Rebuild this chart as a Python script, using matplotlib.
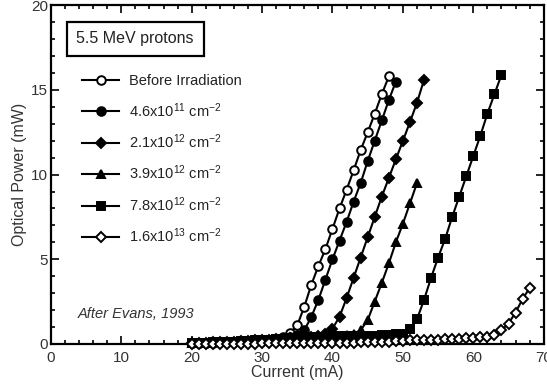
import matplotlib.pyplot as plt
import numpy as np

plt.rcParams['font.family'] = ['Liberation Sans', 'DejaVu Sans']
plt.rcParams['mathtext.fontset'] = 'custom'
plt.rcParams['mathtext.rm'] = 'Liberation Sans'
plt.rcParams['mathtext.it'] = 'Liberation Sans:italic'

# ---- data (current in mA, optical power in mW) ----
labels = ['Before Irradiation',
          '4.6x10$^{11}$ cm$^{-2}$',
          '2.1x10$^{12}$ cm$^{-2}$',
          '3.9x10$^{12}$ cm$^{-2}$',
          '7.8x10$^{12}$ cm$^{-2}$',
          '1.6x10$^{13}$ cm$^{-2}$']

cur_before = np.arange(20, 49)
pow_before = [0.05, 0.05, 0.06, 0.07, 0.08, 0.1, 0.1, 0.12, 0.14, 0.16,
              0.18, 0.22, 0.28, 0.4, 0.65, 1.1, 2.2, 3.5, 4.6, 5.6,
              6.8, 8.0, 9.1, 10.25, 11.45, 12.5, 13.6, 14.75, 15.8]

cur_46e11 = np.arange(20, 50)
pow_46e11 = [0.05, 0.06, 0.07, 0.08, 0.1, 0.11, 0.13, 0.15, 0.17, 0.2,
             0.22, 0.25, 0.28, 0.32, 0.38, 0.5, 0.8, 1.6, 2.6, 3.8,
             5.0, 6.1, 7.2, 8.4, 9.5, 10.8, 12.0, 13.2, 14.4, 15.5]

cur_21e12 = np.arange(20, 54)
pow_21e12 = [0.05, 0.06, 0.07, 0.08, 0.1, 0.11, 0.13, 0.15, 0.17, 0.2,
             0.22, 0.25, 0.27, 0.3, 0.32, 0.35, 0.38, 0.4, 0.45, 0.6,
             0.9, 1.6, 2.7, 3.9, 5.1, 6.3, 7.5, 8.7, 9.8, 10.9,
             12.0, 13.1, 14.25, 15.6]

cur_39e12 = np.arange(20, 53)
pow_39e12 = [0.05, 0.06, 0.07, 0.08, 0.1, 0.11, 0.13, 0.15, 0.17, 0.2,
             0.22, 0.25, 0.27, 0.3, 0.32, 0.34, 0.36, 0.38, 0.4, 0.42,
             0.45, 0.48, 0.52, 0.6, 0.8, 1.4, 2.5, 3.6, 4.75, 6.0,
             7.1, 8.3, 9.5]

cur_78e12 = np.arange(20, 65)
pow_78e12 = [0.05, 0.06, 0.07, 0.08, 0.1, 0.11, 0.13, 0.15, 0.17, 0.2,
             0.22, 0.25, 0.27, 0.3, 0.32, 0.34, 0.36, 0.38, 0.4, 0.42,
             0.43, 0.44, 0.45, 0.46, 0.47, 0.48, 0.49, 0.5, 0.52, 0.55,
             0.6, 0.86, 1.45, 2.6, 3.9, 5.1, 6.2, 7.5, 8.7, 9.9,
             11.1, 12.3, 13.6, 14.75, 15.9]

cur_16e13 = np.arange(20, 69)
pow_16e13 = [0.0, 0.0, 0.0, 0.0, 0.0, 0.0, 0.0, 0.0, 0.0, 0.0,
             0.02, 0.02, 0.03, 0.03, 0.04, 0.04, 0.05, 0.05, 0.05, 0.06,
             0.06, 0.06, 0.07, 0.07, 0.08, 0.08, 0.09, 0.1, 0.12, 0.14,
             0.18, 0.2, 0.21, 0.22, 0.23, 0.24, 0.26, 0.28, 0.3, 0.32,
             0.35, 0.38, 0.42, 0.5, 0.8, 1.2, 1.85, 2.65, 3.3]

series = [(cur_before, pow_before, 'o', 'white'),
          (cur_46e11, pow_46e11, 'o', 'black'),
          (cur_21e12, pow_21e12, 'D', 'black'),
          (cur_39e12, pow_39e12, '^', 'black'),
          (cur_78e12, pow_78e12, 's', 'black'),
          (cur_16e13, pow_16e13, 'D', 'white')]

fig = plt.figure(figsize=(5.47, 3.85), dpi=100)
ax = fig.add_axes([0.093, 0.107, 0.901, 0.879])

for (x, y, m, fc), lab in zip(series, labels):
    ms = {'o': 6.2, 'D': 5.4, '^': 6.2, 's': 5.8}[m]
    ax.plot(x, y, color='black', lw=1.5, marker=m, ms=ms,
            mfc=fc, mec='black', mew=1.4, label=lab, clip_on=False, zorder=3)

ax.set_xlim(0, 70)
ax.set_ylim(0, 20)
ax.set_xticks(np.arange(0, 71, 10))
ax.set_xticks(np.arange(0, 71, 2), minor=True)
ax.set_yticks(np.arange(0, 21, 5))
ax.set_yticks(np.arange(0, 21, 1), minor=True)
ax.tick_params(which='both', direction='in', top=True, right=True,
               width=1.2, colors='black', labelcolor='#333333', labelsize=11)
ax.tick_params(which='major', length=6, pad=2)
ax.tick_params(axis='x', which='major', pad=5)
ax.tick_params(which='minor', length=3)
for sp in ax.spines.values():
    sp.set_linewidth(1.6)

ax.set_xlabel('Current (mA)', fontsize=11.5, color='#333333', labelpad=0)
ax.set_ylabel('Optical Power (mW)', fontsize=11.5, color='#333333', labelpad=3)

ax.text(0.052, 0.924, '5.5 MeV protons', transform=ax.transAxes, fontsize=11.5,
        ha='left', va='top', color='#222222',
        bbox=dict(boxstyle='square,pad=0.6', fc='white', ec='black', lw=1.6))

ax.text(0.055, 0.077, 'After Evans, 1993', transform=ax.transAxes,
        fontsize=10.5, style='italic', color='#333333')

leg = ax.legend(loc='upper left', bbox_to_anchor=(0.064, 0.797), frameon=False,
                fontsize=10.5, handlelength=2.5, handletextpad=0.7,
                labelspacing=0.88, borderpad=0, borderaxespad=0)
for t in leg.get_texts():
    t.set_color('#222222')

fig.savefig('out.png', dpi=100)
